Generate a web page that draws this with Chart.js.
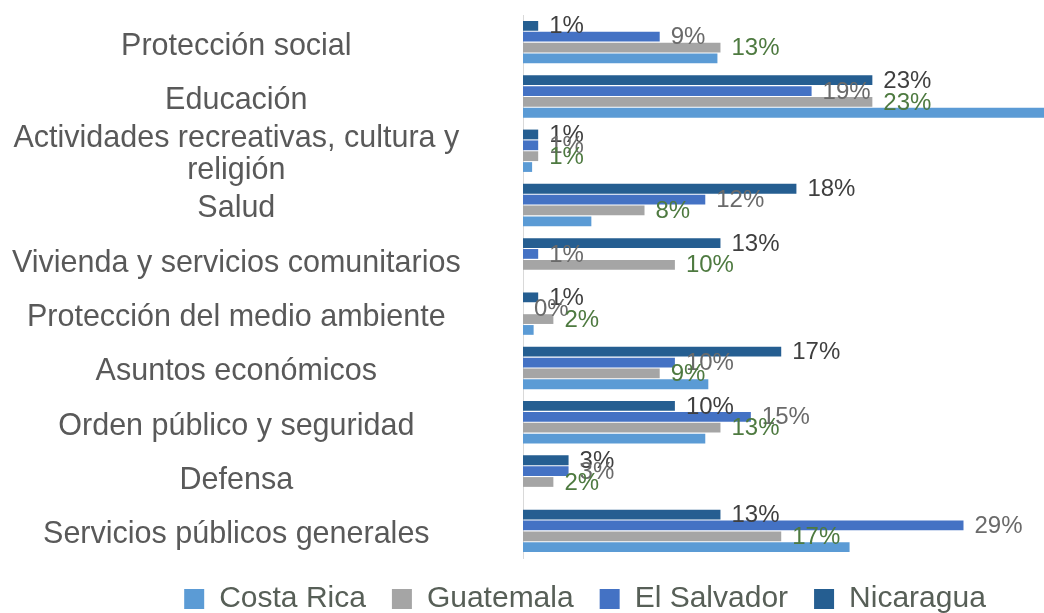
<!DOCTYPE html>
<html lang="es">
<head>
<meta charset="utf-8">
<title>Gasto público por función</title>
<script src="https://cdn.jsdelivr.net/npm/chart.js@4.4.1/dist/chart.umd.min.js"></script>
<style>
    html, body { margin: 0; padding: 0; background: #ffffff; overflow: hidden; }
    .chart-box { position: relative; width: 1044px; height: 613px; }
</style>
</head>
<body>
<div class="chart-box">
    <canvas id="bar-gasto-funcion"></canvas>
</div>
<script>
var categorias = [
    'Protección social',
    'Educación',
    ['Actividades recreativas, cultura y', 'religión'],
    'Salud',
    'Vivienda y servicios comunitarios',
    'Protección del medio ambiente',
    'Asuntos económicos',
    'Orden público y seguridad',
    'Defensa',
    'Servicios públicos generales'
];

// porcentajes por país, mismo orden que las categorias
var nicaragua  = [1, 23, 1, 18, 13, 1, 17, 10, 3, 13];
var elSalvador = [9, 19, 1, 12, 1, 0, 10, 15, 3, 29];
var guatemala  = [13, 23, 1, 8, 10, 2, 9, 13, 2, 17];
var costaRica  = [12.8, 36, 0.6, 4.5, 0, 0.7, 12.2, 12, 0, 21.5];

var fontFamily = "'Liberation Sans', Arial, sans-serif";

// etiquetas de valor al final de cada barra (Costa Rica va sin etiqueta)
var valueLabels = {
    id: 'valueLabels',
    afterDatasetsDraw: function(chart) {
        var ctx = chart.ctx;
        ctx.save();
        ctx.font = '24px ' + fontFamily;
        ctx.textAlign = 'left';
        ctx.textBaseline = 'middle';
        chart.data.datasets.forEach(function(ds, i) {
            if (!ds.valueLabelColor) return;
            ctx.fillStyle = ds.valueLabelColor;
            chart.getDatasetMeta(i).data.forEach(function(bar, j) {
                ctx.fillText(ds.data[j] + '%', bar.x + 11, bar.y + 1);
            });
        });
        ctx.restore();
    }
};

document.addEventListener('DOMContentLoaded', function() {
    const gastoFuncion = document.getElementById('bar-gasto-funcion');

    new Chart(gastoFuncion, {
        type: 'bar',
        data: {
            labels: categorias,
            datasets: [
                { label: 'Nicaragua',   data: nicaragua,  backgroundColor: '#255e91', valueLabelColor: '#3f3f3f' },
                { label: 'El Salvador', data: elSalvador, backgroundColor: '#4472c4', valueLabelColor: '#6a6a6a' },
                { label: 'Guatemala',   data: guatemala,  backgroundColor: '#a5a5a5', valueLabelColor: '#4e7a40' },
                { label: 'Costa Rica',  data: costaRica,  backgroundColor: '#5b9bd5', valueLabelColor: null }
            ]
        },
        options: {
            responsive: true,
            maintainAspectRatio: false,
            animation: false,
            indexAxis: 'y', // barras horizontales
            categoryPercentage: 0.8,
            barPercentage: 0.9,
            layout: {
                // el margen izquierdo centra la leyenda bajo el texto y las barras
                padding: { left: 126, top: 15, right: 0, bottom: 0 }
            },
            plugins: {
                legend: {
                    position: 'bottom',
                    reverse: true,
                    maxHeight: 55,
                    labels: {
                        boxWidth: 20,
                        boxHeight: 20,
                        padding: 26,
                        color: '#575f57',
                        font: { family: fontFamily, size: 30 }
                    }
                },
                tooltip: { enabled: false }
            },
            scales: {
                x: {
                    display: false,
                    min: 0,
                    max: 34.3
                },
                y: {
                    afterFit: function(scale) {
                        scale.width = 397;
                    },
                    grid: { display: false, drawTicks: false },
                    border: { display: true, color: '#d9d9d9', width: 1 },
                    ticks: {
                        autoSkip: false,
                        mirror: true,       // sin recorte, se colocan a la izquierda con padding negativo
                        crossAlign: 'center',
                        padding: -511,
                        labelOffset: 4,
                        color: '#595959',
                        font: { family: fontFamily, size: 30.5, lineHeight: 1.07 }
                    }
                }
            }
        },
        plugins: [valueLabels]
    });
});
</script>
</body>
</html>
